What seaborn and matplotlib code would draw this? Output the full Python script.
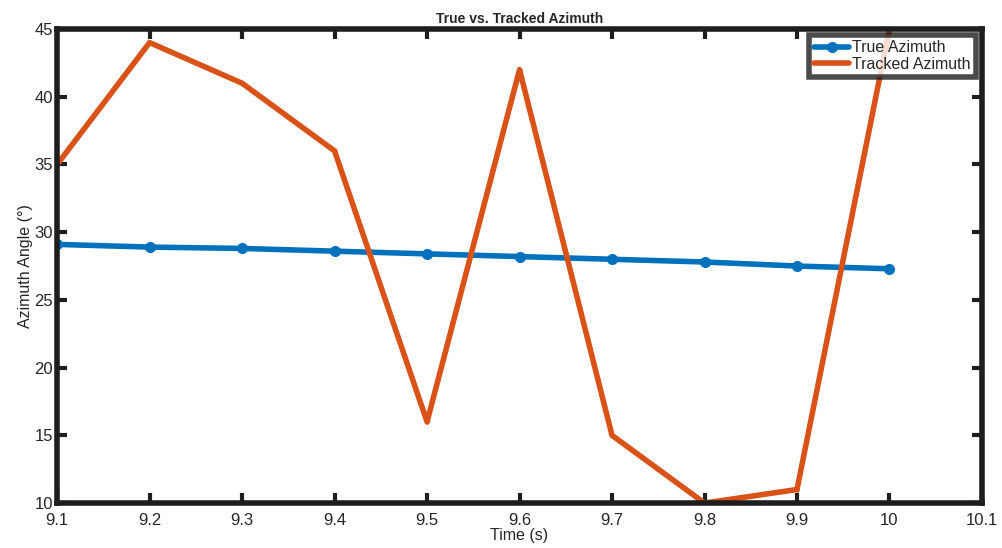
import matplotlib
matplotlib.use('Agg')
import matplotlib.pyplot as plt
import seaborn as sns
import pandas as pd

time_s = [9.1, 9.2, 9.3, 9.4, 9.5, 9.6, 9.7, 9.8, 9.9, 10.0]
true_az = [29.1, 28.9, 28.8, 28.6, 28.4, 28.2, 28.0, 27.8, 27.5, 27.3]
tracked_az = [35, 44, 41, 36, 16, 42, 15, 10, 11, 45]
x_ticks = [9.1, 9.2, 9.3, 9.4, 9.5, 9.6, 9.7, 9.8, 9.9, 10.0, 10.1]
x_labels = ['9.1', '9.2', '9.3', '9.4', '9.5', '9.6', '9.7', '9.8', '9.9', '10', '10.1']
y_ticks = [10, 15, 20, 25, 30, 35, 40, 45]

sns.set_style('white')
plt.rcParams['font.family'] = ['Liberation Sans', 'DejaVu Sans']

df = pd.DataFrame({'Time': time_s, 'True Azimuth': true_az, 'Tracked Azimuth': tracked_az})

fig = plt.figure(figsize=(10.02, 5.48), dpi=100)
ax = fig.add_axes([0.057, 0.082, 0.923, 0.865])

sns.lineplot(data=df, x='Time', y='True Azimuth', ax=ax, color='#0072BD', lw=4,
             marker='o', markersize=8, markeredgewidth=0, label='True Azimuth')
sns.lineplot(data=df, x='Time', y='Tracked Azimuth', ax=ax, color='#D95319', lw=4,
             marker='.', markersize=6, markeredgewidth=0, label='Tracked Azimuth')

ax.set_xlim(9.1, 10.1)
ax.set_ylim(10, 45)
ax.set_xticks(x_ticks)
ax.set_xticklabels(x_labels)
ax.set_yticks(y_ticks)
ax.tick_params(direction='in', length=7, width=3, color='#1e1e1e', labelsize=12,
               labelcolor='#262626', top=True, right=True, bottom=True, left=True)
ax.tick_params(axis='x', pad=7)
ax.tick_params(axis='y', pad=3)
for s in ax.spines.values():
    s.set_linewidth(4)
    s.set_color('#1e1e1e')
    s.set_visible(True)

ax.set_xlabel('Time (s)', fontsize=11.5, color='#262626', labelpad=0)
ax.set_ylabel('Azimuth Angle (°)', fontsize=11.5, color='#262626', labelpad=1)
ax.set_title('True vs. Tracked Azimuth', fontsize=10, fontweight='bold', pad=4)

leg = ax.legend(loc='upper right', fontsize=11.5, frameon=True, fancybox=False,
                borderpad=0.3, labelspacing=0.1, handlelength=2.2, handletextpad=0.2,
                borderaxespad=0.4)
leg.get_frame().set_edgecolor('#1e1e1e')
leg.get_frame().set_linewidth(4)

fig.savefig('out.png', dpi=100)
